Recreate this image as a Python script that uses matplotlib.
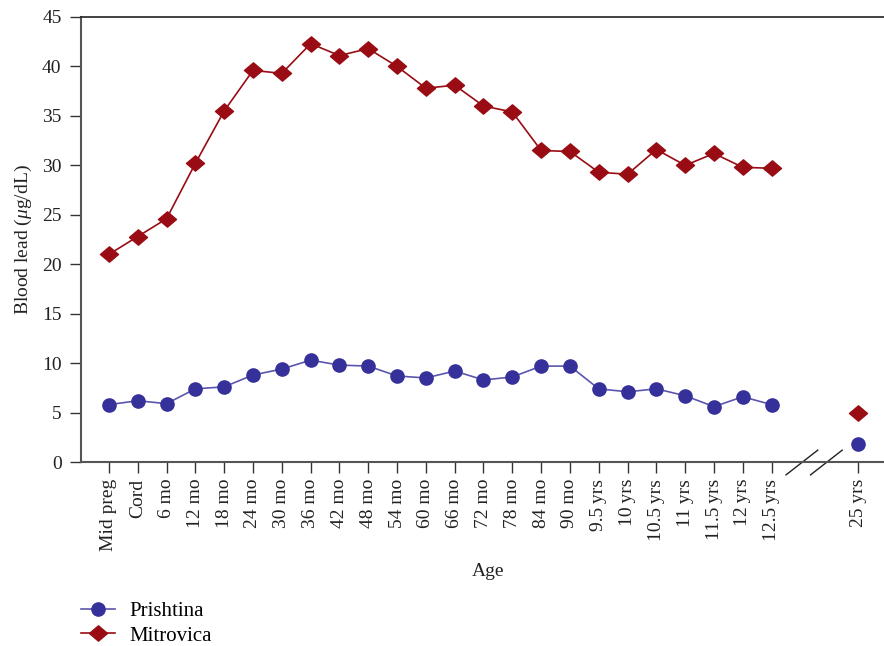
import matplotlib.pyplot as plt
from matplotlib.lines import Line2D
from matplotlib.path import Path

plt.rcParams['font.family'] = ['Liberation Serif', 'DejaVu Serif']
plt.rcParams['mathtext.fontset'] = 'custom'
plt.rcParams['mathtext.it'] = 'Liberation Serif:italic'
plt.rcParams['mathtext.rm'] = 'Liberation Serif'

# ----------------------------
# Data
# ----------------------------
ages = ["Mid preg", "Cord", "6 mo", "12 mo", "18 mo", "24 mo", "30 mo",
        "36 mo", "42 mo", "48 mo", "54 mo", "60 mo", "66 mo", "72 mo",
        "78 mo", "84 mo", "90 mo", "9.5\u2009yrs", "10\u2009yrs",
        "10.5\u2009yrs", "11 yrs", "11.5\u2009yrs", "12\u2009yrs",
        "12.5\u2009yrs"]
late_age = "25 yrs"

prishtina = [5.8, 6.2, 5.9, 7.4, 7.6, 8.8, 9.4, 10.3, 9.8, 9.7, 8.7, 8.5,
             9.2, 8.3, 8.6, 9.7, 9.7, 7.4, 7.1, 7.4, 6.7, 5.6, 6.6, 5.8]
mitrovica = [21.0, 22.8, 24.6, 30.2, 35.5, 39.6, 39.3, 42.3, 41.1, 41.8,
             40.0, 37.8, 38.1, 36.0, 35.4, 31.5, 31.4, 29.3, 29.1, 31.6,
             30.0, 31.2, 29.8, 29.7]
prishtina_late = 1.8
mitrovica_late = 5.0

BLUE = "#35309a"
BLUE_LINE = "#5b56ad"
RED = "#990c14"

# wide diamond marker
DIAMOND = Path([(0, 0.85), (1, 0), (0, -0.85), (-1, 0), (0, 0.85)],
               [Path.MOVETO, Path.LINETO, Path.LINETO, Path.LINETO,
                Path.CLOSEPOLY])

x = list(range(len(ages)))
x_late = len(ages) + 2

fig = plt.figure(figsize=(8.84, 6.46), dpi=100)
ax = fig.add_axes([0.0916, 0.2848, 0.9084, 0.6889])

blue_style = dict(marker="o", ms=9.5, mfc=BLUE, mec=BLUE)
red_style = dict(marker=DIAMOND, ms=13, mfc=RED, mec=RED)

ax.plot(x, prishtina, color=BLUE_LINE, lw=1.2, **blue_style)
ax.plot(x, mitrovica, color=RED, lw=1.2, **red_style)
ax.plot([x_late], [prishtina_late], ls="none", **blue_style)
ax.plot([x_late], [mitrovica_late], ls="none", **red_style)

ax.set_xlim(-0.97, 26.9)
ax.set_ylim(0, 45)
ax.set_yticks(range(0, 46, 5))
ax.set_xticks(x + [x_late])
ax.set_xticklabels(ages + [late_age], rotation=90)

ax.spines["right"].set_visible(False)
ax.spines["top"].set_color("#222222")
ax.spines["top"].set_linewidth(1.2)
for side in ["left", "bottom"]:
    ax.spines[side].set_color("#555555")
    ax.spines[side].set_linewidth(1.5)
ax.tick_params(axis="both", labelsize=14, length=8, width=1,
               color="#333333", labelcolor="#222222")
ax.tick_params(axis="y", pad=6)
ax.tick_params(axis="x", pad=4)

# axis break marks
for x0 in [23.5, 24.35]:
    ax.plot([x0, x0 + 1.1], [-1.3, 1.2], color="#222222", lw=1,
            clip_on=False)

ax.set_ylabel(r"Blood lead ($\mathit{\mu}$g/dL)", fontsize=14,
              color="#222222", labelpad=6)
fig.text(0.552, 0.116, "Age", fontsize=14, color="#222222",
         ha="center", va="center")

handles = [
    Line2D([], [], color=BLUE_LINE, lw=1.2, **blue_style),
    Line2D([], [], color=RED, lw=1.2, **red_style),
]
fig.legend(handles, ["Prishtina", "Mitrovica"], loc="lower left",
           bbox_to_anchor=(0.078, -0.019), frameon=False, fontsize=15,
           handlelength=1.6, labelspacing=0.25, borderaxespad=0.2,
           handletextpad=0.7)

fig.savefig("out.png", dpi=100)
